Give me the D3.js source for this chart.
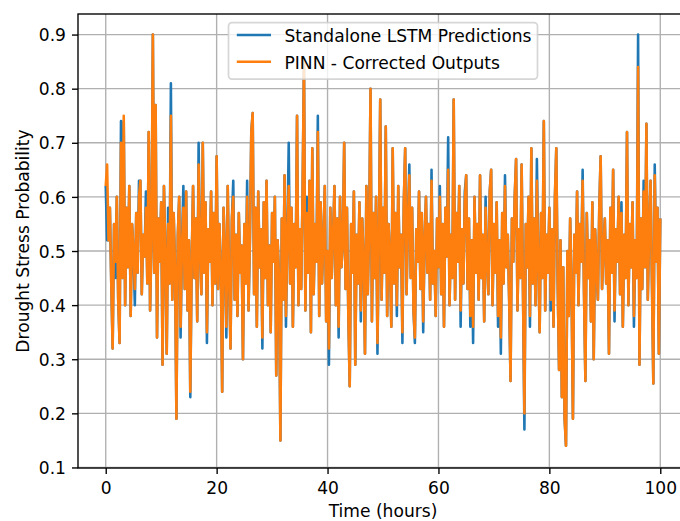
<!DOCTYPE html>
<html>
<head>
<meta charset="utf-8">
<script src="https://cdn.jsdelivr.net/npm/d3@7"></script>
<style>
  body { margin: 0; background: #fff; }
  svg { display: block; font-family: "DejaVu Sans", sans-serif; }
</style>
</head>
<body>
<div id="chart"></div>
<script>
// samples every 0.25 h (rows = 5 hours)
const lstmPredictions = [
  0.62,0.52,0.52,0.58,0.44,0.32,0.55,0.45,0.60,0.41,0.33,0.74,0.45,0.74,0.40,0.58,0.47,0.62,0.38,0.55,
  0.50,0.40,0.57,0.46,0.63,0.63,0.42,0.53,0.49,0.61,0.44,0.72,0.39,0.52,0.90,0.46,0.77,0.34,0.56,0.48,
  0.59,0.29,0.62,0.50,0.31,0.58,0.44,0.81,0.41,0.57,0.47,0.19,0.53,0.60,0.34,0.51,0.62,0.43,0.61,0.39,
  0.52,0.23,0.48,0.62,0.45,0.56,0.37,0.70,0.50,0.42,0.70,0.46,0.59,0.33,0.54,0.48,0.61,0.40,0.57,0.44,
  0.675,0.43,0.55,0.47,0.24,0.58,0.50,0.34,0.62,0.45,0.32,0.56,0.63,0.41,0.53,0.38,0.57,0.46,0.51,0.30,
  0.55,0.44,0.63,0.39,0.52,0.72,0.755,0.42,0.58,0.36,0.61,0.47,0.54,0.32,0.59,0.45,0.63,0.40,0.51,0.35,
  0.57,0.48,0.60,0.27,0.52,0.45,0.15,0.56,0.41,0.64,0.36,0.53,0.70,0.44,0.58,0.36,0.55,0.47,0.75,0.40,
  0.54,0.43,0.61,0.85,0.39,0.60,0.46,0.63,0.35,0.69,0.42,0.55,0.48,0.75,0.38,0.59,0.44,0.52,0.62,0.37,
  0.50,0.29,0.58,0.45,0.53,0.62,0.40,0.56,0.34,0.60,0.47,0.51,0.70,0.43,0.58,0.38,0.25,0.55,0.46,0.61,
  0.29,0.53,0.44,0.59,0.37,0.56,0.48,0.31,0.62,0.42,0.54,0.80,0.37,0.57,0.45,0.60,0.31,0.52,0.78,0.41,
  0.58,0.46,0.73,0.38,0.55,0.49,0.36,0.69,0.44,0.57,0.38,0.62,0.47,0.53,0.33,0.59,0.69,0.42,0.56,0.66,
  0.45,0.58,0.39,0.33,0.54,0.48,0.61,0.43,0.57,0.35,0.52,0.60,0.46,0.55,0.41,0.65,0.44,0.50,0.38,0.56,
  0.47,0.62,0.42,0.55,0.36,0.58,0.49,0.71,0.40,0.53,0.45,0.78,0.41,0.57,0.48,0.62,0.36,0.54,0.44,0.61,
  0.64,0.43,0.56,0.36,0.52,0.33,0.60,0.46,0.55,0.41,0.64,0.45,0.53,0.37,0.60,0.48,0.42,0.61,0.65,0.40,
  0.55,0.46,0.59,0.36,0.52,0.31,0.57,0.44,0.64,0.47,0.53,0.41,0.26,0.56,0.48,0.60,0.67,0.39,0.54,0.45,
  0.66,0.42,0.17,0.55,0.47,0.60,0.36,0.69,0.44,0.56,0.40,0.67,0.48,0.35,0.57,0.45,0.74,0.39,0.53,0.46,
  0.58,0.39,0.54,0.36,0.60,0.69,0.44,0.28,0.52,0.23,0.47,0.19,0.14,0.50,0.38,0.56,0.43,0.19,0.53,0.46,
  0.61,0.40,0.55,0.48,0.65,0.42,0.26,0.57,0.45,0.52,0.37,0.59,0.30,0.54,0.47,0.41,0.58,0.675,0.43,0.50,
  0.56,0.44,0.52,0.31,0.58,0.46,0.65,0.37,0.54,0.48,0.60,0.42,0.59,0.36,0.53,0.45,0.72,0.40,0.55,0.47,
  0.59,0.36,0.52,0.45,0.90,0.29,0.56,0.43,0.63,0.47,0.735,0.41,0.54,0.63,0.44,0.255,0.66,0.48,0.58,0.31,0.56
];

const pinnOutputs = [
  0.62,0.66,0.52,0.58,0.44,0.32,0.55,0.48,0.60,0.41,0.33,0.70,0.45,0.75,0.40,0.58,0.47,0.62,0.38,0.55,
  0.50,0.43,0.57,0.46,0.60,0.63,0.42,0.53,0.49,0.58,0.44,0.72,0.39,0.52,0.90,0.46,0.77,0.34,0.56,0.48,
  0.59,0.29,0.62,0.50,0.31,0.55,0.44,0.75,0.41,0.57,0.47,0.19,0.53,0.60,0.36,0.51,0.58,0.43,0.61,0.39,
  0.52,0.24,0.48,0.62,0.45,0.56,0.37,0.66,0.50,0.42,0.70,0.46,0.59,0.35,0.54,0.48,0.61,0.40,0.57,0.44,
  0.675,0.43,0.55,0.47,0.24,0.58,0.50,0.36,0.62,0.45,0.32,0.56,0.60,0.41,0.53,0.38,0.57,0.46,0.51,0.30,
  0.55,0.44,0.60,0.39,0.52,0.72,0.755,0.42,0.58,0.36,0.61,0.47,0.54,0.34,0.59,0.45,0.63,0.40,0.51,0.35,
  0.57,0.48,0.60,0.27,0.52,0.45,0.15,0.56,0.41,0.64,0.38,0.53,0.62,0.44,0.58,0.36,0.55,0.47,0.75,0.40,
  0.54,0.43,0.61,0.85,0.39,0.57,0.46,0.63,0.35,0.69,0.42,0.55,0.48,0.72,0.38,0.59,0.44,0.52,0.62,0.37,
  0.50,0.32,0.58,0.45,0.53,0.62,0.40,0.56,0.36,0.60,0.47,0.51,0.70,0.43,0.58,0.38,0.25,0.55,0.46,0.61,
  0.29,0.53,0.44,0.59,0.39,0.56,0.48,0.31,0.62,0.42,0.54,0.80,0.37,0.57,0.45,0.60,0.33,0.52,0.78,0.41,
  0.58,0.46,0.73,0.38,0.55,0.49,0.36,0.69,0.44,0.57,0.40,0.62,0.47,0.53,0.35,0.59,0.69,0.42,0.56,0.64,
  0.45,0.58,0.39,0.34,0.54,0.48,0.61,0.43,0.57,0.37,0.52,0.60,0.46,0.55,0.41,0.63,0.44,0.50,0.38,0.56,
  0.47,0.60,0.42,0.55,0.36,0.58,0.49,0.65,0.40,0.53,0.45,0.78,0.41,0.57,0.48,0.62,0.39,0.54,0.44,0.59,
  0.64,0.43,0.56,0.38,0.52,0.36,0.60,0.46,0.55,0.41,0.64,0.45,0.53,0.37,0.58,0.48,0.42,0.61,0.65,0.40,
  0.55,0.46,0.59,0.38,0.52,0.34,0.57,0.44,0.62,0.47,0.53,0.41,0.26,0.56,0.48,0.60,0.67,0.39,0.54,0.45,
  0.66,0.42,0.20,0.55,0.47,0.60,0.38,0.69,0.44,0.56,0.40,0.63,0.48,0.35,0.57,0.45,0.74,0.39,0.53,0.46,
  0.58,0.41,0.54,0.36,0.60,0.69,0.44,0.28,0.52,0.23,0.47,0.19,0.14,0.50,0.38,0.56,0.43,0.19,0.53,0.46,
  0.61,0.40,0.55,0.48,0.63,0.42,0.26,0.57,0.45,0.52,0.37,0.59,0.30,0.54,0.47,0.41,0.58,0.675,0.43,0.50,
  0.56,0.44,0.52,0.31,0.58,0.46,0.65,0.39,0.54,0.48,0.60,0.42,0.57,0.36,0.53,0.45,0.72,0.40,0.55,0.47,
  0.59,0.38,0.52,0.45,0.84,0.29,0.56,0.43,0.61,0.47,0.735,0.41,0.54,0.63,0.44,0.255,0.64,0.48,0.58,0.31,0.56
];

const hourStep = 0.25;
const xTicks = [0, 20, 40, 60, 80, 100];
const yTicks = [0.1, 0.2, 0.3, 0.4, 0.5, 0.6, 0.7, 0.8, 0.9];
const seriesNames = ["Standalone LSTM Predictions", "PINN - Corrected Outputs"];
const seriesColors = ["#1f77b4", "#ff7f0e"];

// plot box (right edge falls just outside the 680 px picture)
const box = { left: 78, right: 688, top: 14, bottom: 468 };
const fontSize = 17.1;

const svg = d3.select("#chart")
    .append("svg")
    .attr("width", 680)
    .attr("height", 521);

const x = d3.scaleLinear().domain([-5, 105]).range([box.left, box.right]);
const y = d3.scaleLinear().domain([0.099, 0.938]).range([box.bottom, box.top]);

// grid
svg.append("g")
    .selectAll("line")
    .data(xTicks)
    .join("line")
    .attr("x1", d => x(d)).attr("x2", d => x(d))
    .attr("y1", box.top).attr("y2", box.bottom)
    .attr("stroke", "#b0b0b0").attr("stroke-width", 1.37);
svg.append("g")
    .selectAll("line")
    .data(yTicks)
    .join("line")
    .attr("x1", box.left).attr("x2", box.right)
    .attr("y1", d => y(d)).attr("y2", d => y(d))
    .attr("stroke", "#b0b0b0").attr("stroke-width", 1.37);

// the two series
const line = d3.line()
    .x((d, i) => x(i * hourStep))
    .y(d => y(d));

[lstmPredictions, pinnOutputs].forEach((values, k) => {
    svg.append("path")
        .datum(values)
        .attr("fill", "none")
        .attr("stroke", seriesColors[k])
        .attr("stroke-width", 2.56)
        .attr("stroke-linejoin", "round")
        .attr("d", line);
});

// axes
const xAxis = svg.append("g")
    .attr("transform", "translate(0," + box.bottom + ")")
    .call(d3.axisBottom(x).tickValues(xTicks).tickSize(6).tickSizeOuter(0).tickFormat(d3.format("d")));
xAxis.select(".domain").remove();
xAxis.selectAll("line").attr("stroke", "#000").attr("stroke-width", 1.37);
xAxis.selectAll("text")
    .attr("y", 26).attr("dy", null)
    .attr("font-size", fontSize).attr("font-family", "DejaVu Sans").attr("fill", "#000");

const yAxis = svg.append("g")
    .attr("transform", "translate(" + box.left + ",0)")
    .call(d3.axisLeft(y).tickValues(yTicks).tickSize(6).tickSizeOuter(0).tickFormat(d3.format(".1f")));
yAxis.select(".domain").remove();
yAxis.selectAll("line").attr("stroke", "#000").attr("stroke-width", 1.37);
yAxis.selectAll("text")
    .attr("x", -12).attr("dy", "0.36em")
    .attr("font-size", fontSize).attr("font-family", "DejaVu Sans").attr("fill", "#000");

// frame
svg.append("rect")
    .attr("x", box.left).attr("y", box.top)
    .attr("width", box.right - box.left).attr("height", box.bottom - box.top)
    .attr("fill", "none").attr("stroke", "#000").attr("stroke-width", 1.37);

// axis titles
svg.append("text")
    .attr("x", (box.left + box.right) / 2).attr("y", 517)
    .attr("text-anchor", "middle")
    .attr("font-size", fontSize)
    .text("Time (hours)");
svg.append("text")
    .attr("transform", "translate(29," + (box.top + box.bottom) / 2 + ") rotate(-90)")
    .attr("text-anchor", "middle")
    .attr("font-size", fontSize)
    .text("Drought Stress Probability");

// legend, upper center
const legend = svg.append("g");
legend.append("rect")
    .attr("x", 228.5).attr("y", 22.6)
    .attr("width", 309).attr("height", 56.5)
    .attr("rx", 3.5)
    .attr("fill", "rgba(255,255,255,0.8)")
    .attr("stroke", "rgba(204,204,204,0.8)")
    .attr("stroke-width", 1.7);
seriesNames.forEach((name, k) => {
    const ly = 35 + k * 26.7;
    legend.append("line")
        .attr("x1", 236.8).attr("x2", 271)
        .attr("y1", ly).attr("y2", ly)
        .attr("stroke", seriesColors[k]).attr("stroke-width", 2.56);
    legend.append("text")
        .attr("x", 284.5).attr("y", ly + 6.9)
        .attr("font-size", fontSize)
        .text(name);
});
</script>
</body>
</html>
